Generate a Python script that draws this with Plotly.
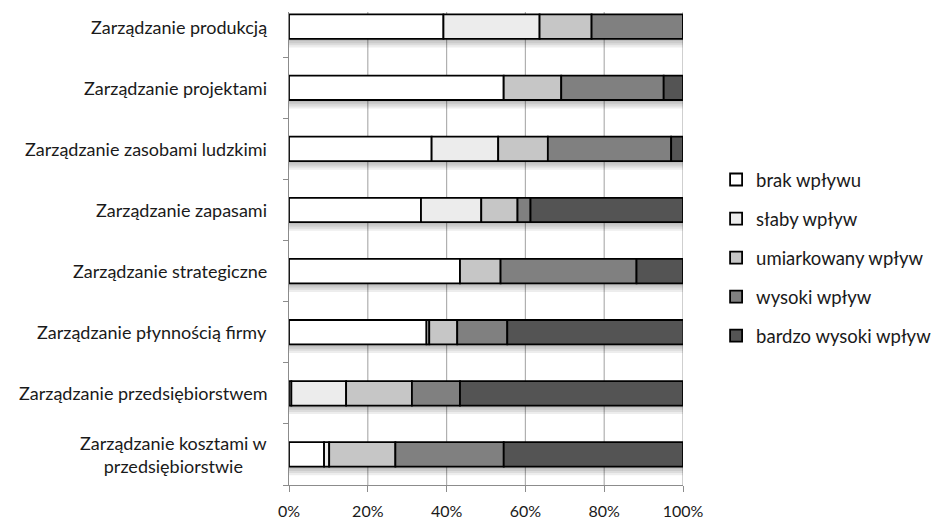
import plotly.graph_objects as go

# Areas of management, top to bottom
categories = [
    "Zarządzanie produkcją",
    "Zarządzanie projektami",
    "Zarządzanie zasobami ludzkimi",
    "Zarządzanie zapasami",
    "Zarządzanie strategiczne",
    "Zarządzanie płynnością firmy",
    "Zarządzanie przedsiębiorstwem",
    "Zarządzanie kosztami w<br>przedsiębiorstwie",
]

# Share of answers (%) per impact level, same order as categories
brak_wplywu = [39.2, 54.5, 36.2, 33.5, 43.4, 34.9, 0.6, 8.9]
slaby_wplyw = [24.4, 0.0, 16.9, 15.3, 0.0, 0.7, 13.9, 1.3]
umiarkowany_wplyw = [13.2, 14.6, 12.6, 9.2, 10.3, 7.1, 16.7, 16.8]
wysoki_wplyw = [23.2, 26.0, 31.3, 3.3, 34.5, 12.7, 12.2, 27.5]
bardzo_wysoki_wplyw = [0.0, 4.9, 3.0, 38.7, 11.8, 44.7, 56.6, 45.5]

series_names = ["brak wpływu", "słaby wpływ", "umiarkowany wpływ", "wysoki wpływ", "bardzo wysoki wpływ"]
series_values = [brak_wplywu, slaby_wplyw, umiarkowany_wplyw, wysoki_wplyw, bardzo_wysoki_wplyw]
series_colors = ["#ffffff", "#ececec", "#c6c6c6", "#808080", "#545454"]

x_ticks = [0, 20, 40, 60, 80, 100]
x_tick_labels = ["0%", "20%", "40%", "60%", "80%", "100%"]

FONT = "Lato"
BAR_W = 0.4

totals = [sum(v) for v in zip(*series_values)]

fig = go.Figure()

# Vertical gridlines at each labelled tick, kept beneath the bars
for t in x_ticks[1:]:
    fig.add_vline(x=t, line=dict(color="#b0b0b0", width=1.2), layer="below")

# Soft drop shadow under each bar: stacked translucent layers growing downward
for d in (0.035, 0.07, 0.105, 0.14):
    fig.add_trace(go.Bar(
        y=categories, x=totals, orientation="h",
        width=BAR_W + d, offset=BAR_W / 2 - (BAR_W + d),
        marker=dict(color="rgba(0,0,0,0.07)", line=dict(width=0)),
        showlegend=False, hoverinfo="skip",
    ))

# Stacked segments, each starting where the previous one ends
base = [0.0] * len(categories)
for name, vals, col in zip(series_names, series_values, series_colors):
    fig.add_trace(go.Bar(
        y=categories, x=vals, base=list(base),
        name=name, orientation="h",
        marker=dict(color=col, line=dict(color="#000000", width=1.8)),
        width=BAR_W,
        legendgroup=name,
    ))
    base = [b + v for b, v in zip(base, vals)]

# Category labels as annotations so wrapped text is centred
for cat in categories:
    fig.add_annotation(
        x=0, xref="paper", y=cat, yref="y",
        text=cat, showarrow=False, xanchor="right", yanchor="middle",
        xshift=-20, align="center",
        font=dict(family=FONT, size=18, color="#1a1a1a"),
    )

fig.update_layout(
    barmode="overlay",
    width=931, height=521,
    margin=dict(l=289, r=248, t=12, b=36, autoexpand=False),
    plot_bgcolor="#ffffff",
    paper_bgcolor="#ffffff",
    font=dict(family=FONT, size=16, color="#1a1a1a"),
    legend=dict(
        x=1.084, xanchor="left", y=0.48, yanchor="middle",
        traceorder="grouped", tracegroupgap=12,
        font=dict(family=FONT, size=18.5, color="#1a1a1a"),
        itemwidth=30,
    ),
    xaxis=dict(
        range=[0, 100],
        tickvals=x_ticks, ticktext=x_tick_labels,
        showgrid=False,
        showline=True, linecolor="#8c8c8c", linewidth=1,
        ticks="outside", ticklen=6, tickcolor="#8c8c8c",
        ticklabelstandoff=6,
        zeroline=False,
        tickfont=dict(family=FONT, size=16, color="#1a1a1a"),
    ),
    yaxis=dict(
        categoryorder="array", categoryarray=categories[::-1],
        range=[-0.5, 7.24],
        showticklabels=False,
        showline=True, linecolor="#8c8c8c", linewidth=1,
        ticks="outside", ticklen=5, tickcolor="#8c8c8c",
        tickson="boundaries",
        showgrid=False, zeroline=False,
    ),
)

fig.write_html("out.html")
